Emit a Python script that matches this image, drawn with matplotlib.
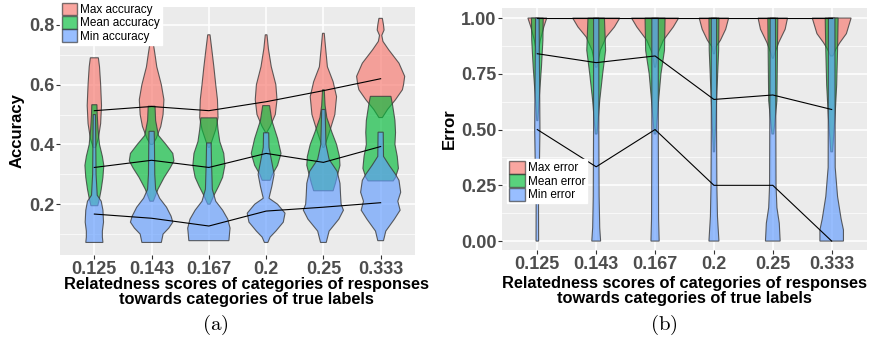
import numpy as np
import matplotlib
matplotlib.use('Agg')
import matplotlib.pyplot as plt
from matplotlib.patches import Patch

plt.rcParams['font.family'] = ['Liberation Sans', 'DejaVu Sans']
plt.rcParams['mathtext.fontset'] = 'cm'

categories = ['0.125', '0.143', '0.167', '0.2', '0.25', '0.333']

# black lines through the violins (a)
acc_max_line = [0.513, 0.527, 0.513, 0.543, 0.58, 0.62]
acc_mean_line = [0.323, 0.347, 0.323, 0.37, 0.34, 0.393]
acc_min_line = [0.167, 0.153, 0.127, 0.177, 0.19, 0.205]

# black lines through the violins (b)
err_max_line = [1.0, 1.0, 1.0, 1.0, 1.0, 1.0]
err_mean_line = [0.84, 0.80, 0.83, 0.635, 0.655, 0.59]
err_min_line = [0.5, 0.333, 0.5, 0.25, 0.25, 0.0]

# violin outlines: (value, half width) from top to bottom
acc_max_profile = [
    [(0.69, 0.07), (0.66, 0.09), (0.60, 0.11), (0.53, 0.125), (0.47, 0.11), (0.42, 0.07), (0.39, 0.02)],
    [(0.75, 0.02), (0.70, 0.06), (0.66, 0.09), (0.60, 0.17), (0.55, 0.215), (0.50, 0.20), (0.46, 0.16), (0.42, 0.08), (0.40, 0.02)],
    [(0.767, 0.02), (0.72, 0.05), (0.66, 0.087), (0.60, 0.12), (0.55, 0.15), (0.49, 0.16), (0.45, 0.12), (0.41, 0.05), (0.39, 0.01)],
    [(0.767, 0.015), (0.72, 0.04), (0.66, 0.09), (0.60, 0.17), (0.55, 0.19), (0.50, 0.16), (0.46, 0.07), (0.44, 0.01)],
    [(0.772, 0.015), (0.72, 0.04), (0.66, 0.07), (0.61, 0.17), (0.56, 0.23), (0.50, 0.20), (0.45, 0.12), (0.41, 0.05), (0.39, 0.01)],
    [(0.822, 0.03), (0.80, 0.05), (0.783, 0.06), (0.765, 0.02), (0.745, 0.04), (0.717, 0.14), (0.672, 0.32), (0.628, 0.42),
     (0.60, 0.40), (0.583, 0.38), (0.55, 0.26), (0.517, 0.12), (0.49, 0.03)],
]
acc_mean_profile = [
    [(0.533, 0.045), (0.50, 0.05), (0.45, 0.065), (0.40, 0.09), (0.36, 0.14), (0.33, 0.165), (0.29, 0.15), (0.25, 0.12), (0.22, 0.09), (0.195, 0.06)],
    [(0.528, 0.06), (0.48, 0.07), (0.43, 0.12), (0.40, 0.25), (0.37, 0.37), (0.345, 0.39), (0.32, 0.32), (0.29, 0.22), (0.25, 0.11), (0.21, 0.03)],
    [(0.489, 0.14), (0.45, 0.16), (0.41, 0.19), (0.37, 0.26), (0.33, 0.28), (0.29, 0.24), (0.26, 0.17), (0.23, 0.09), (0.20, 0.02)],
    [(0.53, 0.06), (0.48, 0.10), (0.42, 0.20), (0.37, 0.26), (0.33, 0.20), (0.30, 0.11), (0.28, 0.07)],
    [(0.583, 0.015), (0.53, 0.03), (0.49, 0.06), (0.44, 0.15), (0.40, 0.23), (0.36, 0.28), (0.33, 0.29), (0.30, 0.25), (0.27, 0.21), (0.245, 0.17)],
    [(0.561, 0.18), (0.53, 0.21), (0.48, 0.25), (0.44, 0.26), (0.40, 0.25), (0.36, 0.29), (0.32, 0.31), (0.29, 0.26), (0.278, 0.22)],
]
acc_min_profile = [
    [(0.50, 0.02), (0.40, 0.025), (0.30, 0.03), (0.23, 0.05), (0.21, 0.12), (0.18, 0.15), (0.14, 0.16), (0.11, 0.14), (0.09, 0.14), (0.072, 0.15)],
    [(0.444, 0.045), (0.40, 0.05), (0.30, 0.055), (0.25, 0.07), (0.22, 0.14), (0.19, 0.26), (0.16, 0.34), (0.14, 0.37), (0.12, 0.30), (0.10, 0.20), (0.072, 0.17)],
    [(0.405, 0.04), (0.35, 0.045), (0.25, 0.06), (0.21, 0.12), (0.18, 0.24), (0.15, 0.33), (0.12, 0.37), (0.10, 0.36), (0.078, 0.35)],
    [(0.439, 0.045), (0.39, 0.05), (0.34, 0.10), (0.30, 0.14), (0.26, 0.10), (0.22, 0.05), (0.20, 0.20), (0.17, 0.33), (0.14, 0.30),
     (0.11, 0.17), (0.09, 0.07), (0.072, 0.03)],
    [(0.517, 0.03), (0.40, 0.045), (0.35, 0.10), (0.31, 0.24), (0.27, 0.29), (0.23, 0.30), (0.20, 0.31), (0.18, 0.35), (0.15, 0.27),
     (0.11, 0.10), (0.072, 0.05)],
    [(0.441, 0.045), (0.36, 0.05), (0.33, 0.15), (0.30, 0.26), (0.28, 0.32), (0.24, 0.35), (0.21, 0.30), (0.18, 0.34), (0.15, 0.24),
     (0.11, 0.09), (0.078, 0.05)],
]

err_max_profile = [
    [(1.0, 0.16), (0.96, 0.11), (0.90, 0.05), (0.84, 0.01)],
    [(1.0, 0.40), (0.96, 0.31), (0.915, 0.17), (0.855, 0.07), (0.78, 0.015)],
    [(1.0, 0.40), (0.96, 0.31), (0.90, 0.14), (0.84, 0.045), (0.78, 0.01)],
    [(1.0, 0.25), (0.95, 0.20), (0.90, 0.11), (0.87, 0.03), (0.84, 0.01)],
    [(1.0, 0.25), (0.95, 0.21), (0.89, 0.10), (0.84, 0.03), (0.82, 0.01)],
    [(1.0, 0.33), (0.93, 0.25), (0.89, 0.14), (0.86, 0.07), (0.83, 0.02)],
]
err_mean_profile = [
    [(1.0, 0.10), (0.90, 0.095), (0.78, 0.07), (0.63, 0.03), (0.54, 0.01)],
    [(1.0, 0.14), (0.855, 0.16), (0.75, 0.11), (0.63, 0.06), (0.48, 0.015)],
    [(1.0, 0.17), (0.855, 0.16), (0.75, 0.10), (0.63, 0.06), (0.48, 0.015)],
    [(1.0, 0.085), (0.855, 0.08), (0.63, 0.045), (0.40, 0.01)],
    [(1.0, 0.085), (0.63, 0.07), (0.48, 0.015)],
    [(1.0, 0.11), (0.855, 0.10), (0.70, 0.085), (0.55, 0.055), (0.40, 0.015)],
]
err_min_profile = [
    [(1.0, 0.03), (0.5, 0.045), (0.33, 0.035), (0.18, 0.02), (0.0, 0.022)],
    [(1.0, 0.045), (0.5, 0.045), (0.2, 0.05), (0.06, 0.06), (0.0, 0.075)],
    [(1.0, 0.055), (0.5, 0.055), (0.1, 0.06), (0.0, 0.07)],
    [(1.0, 0.045), (0.5, 0.045), (0.25, 0.05), (0.11, 0.06), (0.0, 0.085)],
    [(1.0, 0.045), (0.25, 0.055), (0.15, 0.07), (0.08, 0.11), (0.0, 0.125)],
    [(1.0, 0.055), (0.33, 0.06), (0.20, 0.10), (0.10, 0.16), (0.05, 0.2), (0.0, 0.2)],
]

red, green, blue = '#F8766D', '#00BA38', '#619CFF'
tick_font = dict(fontsize=13, fontweight='bold', color='#4D4D4D')


def draw_violins(ax, profiles, color):
    for i, prof in enumerate(profiles):
        pos = i + 1
        y = np.array([p[0] for p in prof])
        w = np.array([p[1] for p in prof])
        xs = np.concatenate([pos - w, (pos + w)[::-1]])
        ys = np.concatenate([y, y[::-1]])
        ax.fill(xs, ys, facecolor=color, alpha=0.65, edgecolor='none', zorder=2)
        ax.fill(xs, ys, facecolor='none', edgecolor='#3a3a3a', lw=0.8, alpha=0.8, zorder=2)


def style_axes(ax, yticks, ylabels, minor):
    ax.set_facecolor('#EBEBEB')
    for s in ax.spines.values():
        s.set_visible(False)
    ax.set_xticks(range(1, 7))
    ax.set_xticklabels(categories, **tick_font)
    ax.set_yticks(yticks)
    ax.set_yticklabels(ylabels, **tick_font)
    ax.set_yticks(minor, minor=True)
    ax.tick_params(axis='both', which='major', length=3, color='#333333', pad=1)
    ax.tick_params(axis='y', which='minor', length=0)
    ax.grid(True, which='major', color='white', lw=1.1, zorder=0)
    ax.grid(True, which='minor', axis='y', color='white', lw=0.5, zorder=0)
    ax.set_axisbelow(True)
    ax.set_xlim(0.4, 6.6)


def add_legend(ax, labels, anchor):
    handles = [Patch(facecolor=c, alpha=0.65, edgecolor='#333333', label=l)
               for c, l in zip((red, green, blue), labels)]
    leg = ax.legend(handles=handles, loc='upper left', bbox_to_anchor=anchor, fontsize=8.5,
                    frameon=True, fancybox=False, edgecolor='white', framealpha=1,
                    handlelength=1.3, handleheight=1.3, labelspacing=0.0, borderpad=0.15,
                    handletextpad=0.25, borderaxespad=0)
    leg.set_zorder(5)


fig = plt.figure(figsize=(8.72, 3.5), dpi=100)
xpos = np.arange(1, 7)

# (a) accuracy
ax1 = fig.add_axes([60 / 872, 1 - 255 / 350, 355 / 872, 248 / 350])
style_axes(ax1, [0.2, 0.4, 0.6, 0.8], ['0.2', '0.4', '0.6', '0.8'], [0.1, 0.3, 0.5, 0.7])
ax1.set_ylim(0.03, 0.86)
draw_violins(ax1, acc_max_profile, red)
draw_violins(ax1, acc_mean_profile, green)
draw_violins(ax1, acc_min_profile, blue)
for line in (acc_max_line, acc_mean_line, acc_min_line):
    ax1.plot(xpos, line, color='black', lw=0.8, zorder=3)
ax1.set_ylabel('Accuracy', fontsize=12, fontweight='bold', labelpad=3)
add_legend(ax1, ['Max accuracy', 'Mean accuracy', 'Min accuracy'], (0.0, 1.025))

# (b) error
ax2 = fig.add_axes([502 / 872, 1 - 250 / 350, 365 / 872, 242 / 350])
style_axes(ax2, [0.0, 0.25, 0.5, 0.75, 1.0], ['0.00', '0.25', '0.50', '0.75', '1.00'], [0.125, 0.375, 0.625, 0.875])
ax2.set_ylim(-0.04, 1.045)
draw_violins(ax2, err_max_profile, red)
draw_violins(ax2, err_mean_profile, green)
draw_violins(ax2, err_min_profile, blue)
for line in (err_max_line, err_mean_line, err_min_line):
    ax2.plot(xpos, line, color='black', lw=0.8, zorder=3)
ax2.set_ylabel('Error', fontsize=12, fontweight='bold', labelpad=3)
add_legend(ax2, ['Max error', 'Mean error', 'Min error'], (0.015, 0.375))

# x titles and captions
xtitle = 'Relatedness scores of categories of responses\ntowards categories of true labels'
fig.text(246 / 872, 1 - 292 / 350, xtitle, ha='center', va='center', fontsize=11.8,
         fontweight='bold', linespacing=1.05)
fig.text(684 / 872, 1 - 291 / 350, xtitle, ha='center', va='center', fontsize=11.8,
         fontweight='bold', linespacing=1.05)
fig.text(215 / 872, 1 - 325 / 350, r'$\mathrm{(a)}$', ha='center', va='center', fontsize=15)
fig.text(664 / 872, 1 - 325 / 350, r'$\mathrm{(b)}$', ha='center', va='center', fontsize=15)

fig.savefig('out.png', dpi=100)
